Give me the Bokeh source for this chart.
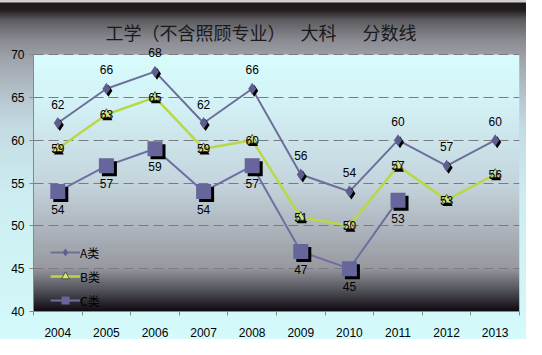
import numpy as np
from bokeh.plotting import figure
from bokeh.models import FixedTicker, Range1d, Legend, LegendItem
from bokeh.core.properties import value
from bokeh.embed import file_html
from bokeh.resources import INLINE

# ---- data ----
years = ["2004", "2005", "2006", "2007", "2008", "2009", "2010", "2011", "2012", "2013"]
a_vals = [62, 66, 68, 62, 66, 56, 54, 60, 57, 60]
b_vals = [59, 63, 65, 59, 60, 51, 50, 57, 53, 56]
c_vals = [54, 57, 59, 54, 57, 47, 45, 53]
y_ticks = [40, 45, 50, 55, 60, 65, 70]
series_names = ["A类", "B类", "C类"]
title_parts = ["工学（不含照顾专业）", "大科", "分数线"]

n = len(years)
xs = [i + 0.5 for i in range(n)]
xs_c = xs[:len(c_vals)]

W, H = 526, 339
LEFT, RIGHT, TOP, BOTTOM = 33, 7, 8, 28
Y70_PX = 54                       # pixel row of the top (70) line
band_px = H - BOTTOM - Y70_PX     # pixel height of the 40..70 band
y_lo, y_hi = y_ticks[0], y_ticks[-1]
px_y = (y_hi - y_lo) / band_px
frame_w = W - LEFT - RIGHT
px_x = n / frame_w
y_top = y_hi + (Y70_PX - TOP) * px_y   # frame extends above 70 to hold labels and title

outer_bg = ("linear-gradient(to bottom, #d0d0d0 0px, #d0d0d0 2px, #201818 3px, #221c1e 10px, "
            "#5c5c60 20px, #8a8a92 40px, #a0a4ac 60px, #b8c8d0 100px, #c4dce4 130px, "
            "#cceef2 200px, #d2f6f8 300px, #d4fafc 339px)")

p = figure(width=W, height=H, output_backend="svg", toolbar_location=None,
           x_range=Range1d(0, n), y_range=Range1d(y_lo, y_top),
           min_border_left=LEFT, min_border_right=RIGHT,
           min_border_top=TOP, min_border_bottom=BOTTOM,
           styles={"background": outer_bg})
p.border_fill_color = None
p.background_fill_color = None
p.outline_line_color = None

# plot-area gradient (style only)
stops = [(0.0, (0xD8, 0xFC, 0xFC)), (0.17, (0xD4, 0xF4, 0xF8)), (0.51, (0xC4, 0xD4, 0xDC)),
         (0.66, (0xB0, 0xB8, 0xC0)), (0.83, (0x98, 0x9A, 0xA0)), (0.92, (0x50, 0x50, 0x58)),
         (1.0, (0x10, 0x08, 0x10))]
rows = band_px
img = np.empty((rows, 1), dtype=np.uint32)
view = img.view(dtype=np.uint8).reshape((rows, 1, 4))
tpos = [s[0] for s in stops]
for i in range(rows):
    t = 1 - (i + 0.5) / rows
    for ch in range(3):
        view[i, 0, ch] = int(np.interp(t, tpos, [s[1][ch] for s in stops]))
    view[i, 0, 3] = 255
p.image_rgba(image=[img], x=0, y=y_lo, dw=n, dh=y_hi - y_lo, level="image")

# axes
p.xgrid.visible = False
p.ygrid.grid_line_color = "#7a7a80"
p.ygrid.grid_line_dash = "10 5"
p.ygrid.grid_line_width = 1

p.yaxis.ticker = FixedTicker(ticks=y_ticks)
p.yaxis.bounds = (y_lo, y_hi)
p.yaxis.minor_tick_line_color = None
p.yaxis.major_tick_out = 4
p.yaxis.major_tick_in = 0
p.yaxis.major_label_standoff = 5
p.yaxis.axis_line_color = "#888888"
p.yaxis.major_tick_line_color = "#888888"

p.xaxis.ticker = FixedTicker(ticks=xs, minor_ticks=list(range(n + 1)))
p.xaxis.major_label_overrides = {x: y for x, y in zip(xs, years)}
p.xaxis.major_tick_out = 0
p.xaxis.major_tick_in = 0
p.xaxis.minor_tick_out = 4
p.xaxis.minor_tick_in = 0
p.xaxis.major_label_standoff = 12
p.xaxis.axis_line_color = "#888888"
p.xaxis.minor_tick_line_color = "#888888"

for ax in (p.xaxis, p.yaxis):
    ax.major_label_text_font = "Liberation Sans"
    ax.major_label_text_font_size = "12px"
    ax.major_label_text_color = "#000000"

# series
A_COL, A_MARK = "#6e6e9a", "#5e5e8e"
B_COL, B_MARK = "#b8d848", "#d2e68a"
C_COL, C_MARK = "#6e6ea0", "#66669c"

la = p.line(xs, a_vals, line_color=A_COL, line_width=2)
lb = p.line(xs, b_vals, line_color=B_COL, line_width=2.5)
lc = p.line(xs_c, c_vals, line_color=C_COL, line_width=2)

# shadows
p.scatter([x + 2 * px_x for x in xs], [v - 2 * px_y for v in a_vals], marker="diamond",
          size=12, fill_color="#000000", line_color=None)
p.scatter([x + 1 * px_x for x in xs], [v - 3 * px_y for v in b_vals], marker="triangle",
          size=10, fill_color="#000000", line_color=None)
p.scatter([x + 3 * px_x for x in xs_c], [v - 3 * px_y for v in c_vals], marker="square",
          size=15, fill_color="#000000", line_color=None)

ma = p.scatter(xs, a_vals, marker="diamond", size=12, fill_color=A_MARK, line_color=None)
mb = p.scatter(xs, b_vals, marker="triangle", size=10, fill_color=B_MARK, line_color="#404020",
               line_width=0.8)
mc = p.scatter(xs_c, c_vals, marker="square", size=15, fill_color=C_MARK, line_color=None)

# data labels
lbl_kw = dict(text_font=value("Liberation Sans"), text_font_size="12px", text_color="#000000",
              text_align="center", text_baseline="middle")
p.text(xs, a_vals, text=[str(v) for v in a_vals], y_offset=-19, **lbl_kw)
p.text(xs, b_vals, text=[str(v) for v in b_vals], y_offset=0, **lbl_kw)
p.text(xs_c, c_vals, text=[str(v) for v in c_vals], y_offset=18, **lbl_kw)

# title (drawn inside the extended frame, above the 70 line)
title_y = y_hi + (Y70_PX - 31) * px_y
p.text([(105 - LEFT) * px_x, (300 - LEFT) * px_x, (362 - LEFT) * px_x], [title_y] * 3,
       text=title_parts, text_font=value("Noto Sans CJK SC"), text_font_size="18px",
       text_color="#1a1a1a", text_align="left", text_baseline="middle")

legend = Legend(items=[LegendItem(label=series_names[0], renderers=[la, ma]),
                       LegendItem(label=series_names[1], renderers=[lb, mb]),
                       LegendItem(label=series_names[2], renderers=[lc, mc])],
                location=(17, 1), glyph_width=30, glyph_height=20, spacing=4,
                padding=0, margin=0, label_standoff=0,
                background_fill_alpha=0, border_line_color=None,
                label_text_font="Noto Sans CJK SC", label_text_font_size="12px",
                label_text_color="#000000")
p.add_layout(legend)

open("out.html", "w").write(file_html(p, INLINE))
